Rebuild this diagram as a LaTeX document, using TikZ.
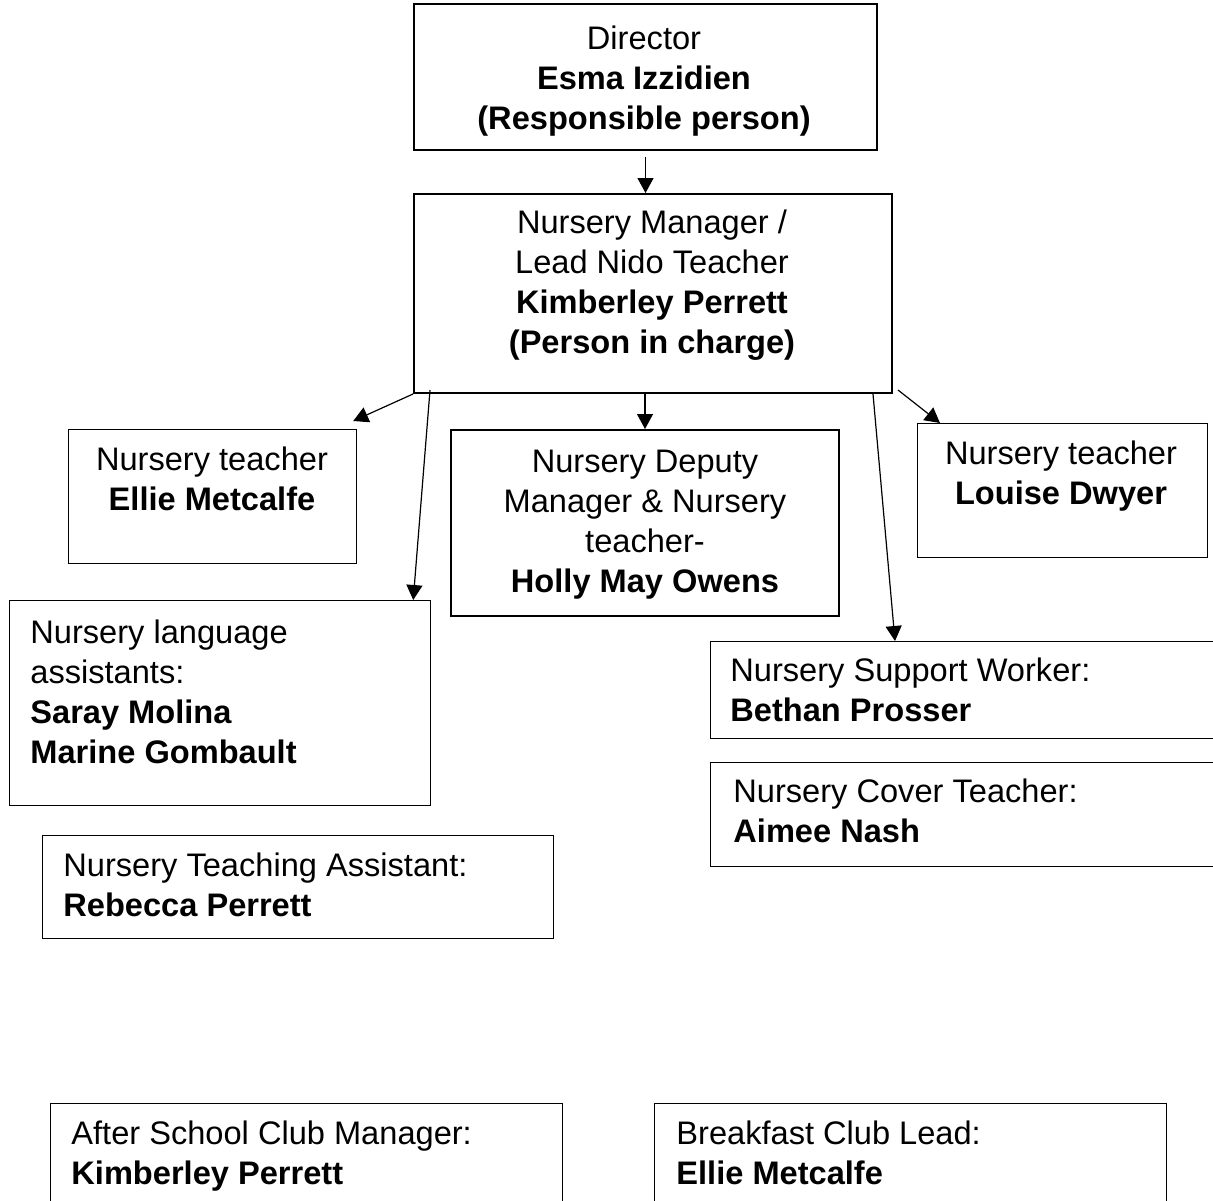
\documentclass[tikz,border=0pt]{standalone}
\usepackage{fontspec}
\setmainfont{Liberation Sans}
\usetikzlibrary{arrows.meta}
\newcommand{\chartfont}{\fontsize{16.3}{20}\selectfont}

\begin{document}
\begin{tikzpicture}[x=0.5pt, y=-0.5pt, font=\chartfont,
    box/.style={draw, rectangle, inner sep=0pt, anchor=north west, line width=0.6pt},
    bigbox/.style={box, line width=1pt},
    lbl/.style={inner sep=0pt, anchor=north, align=center},
    lbll/.style={inner sep=0pt, anchor=north west, align=left},
    arr/.style={line width=0.6pt, -{Triangle[length=7.5pt,width=8pt]}}]
    \clip (0,0) rectangle (1213,1200);

    % Top of the chart
    \node[bigbox, minimum width=231.5pt, minimum height=73pt] (dir) at (413,3) {};
    \node[bigbox, minimum width=239pt, minimum height=99.5pt] (mgr) at (413,193) {};
    \node[lbl] (dir-t) at (644,21) {\strut Director\\ \textbf{Esma Izzidien}\\ \textbf{(Responsible person)}};
    \node[lbl] (mgr-t) at (652,205) {\strut Nursery Manager /\\ Lead Nido Teacher\\ \textbf{Kimberley Perrett}\\ \textbf{(Person in charge)}};

    % Nursery team
    \node[box, minimum width=144pt, minimum height=67pt] (ellie) at (68,429) {};
    \node[bigbox, minimum width=194pt, minimum height=93pt] (dep) at (450,429) {};
    \node[box, minimum width=145pt, minimum height=67pt] (louise) at (917,423) {};
    \node[lbl] (ellie-t) at (212,442) {\strut Nursery teacher\\ \textbf{Ellie Metcalfe}};
    \node[lbl] (dep-t) at (645,444) {\strut Nursery Deputy\\ Manager \& Nursery\\ teacher-\\ \textbf{Holly May Owens}};
    \node[lbl] (louise-t) at (1061,436) {\strut Nursery teacher\\ \textbf{Louise Dwyer}};

    \node[box, minimum width=210.5pt, minimum height=102.5pt] (lang) at (9,600) {};
    \node[box, minimum width=260pt, minimum height=48.5pt] (supp) at (710,641) {};
    \node[box, minimum width=260pt, minimum height=52pt] (cover) at (710,762) {};
    \node[box, minimum width=255.5pt, minimum height=51.5pt] (tass) at (42,835) {};
    \node[lbll] (lang-t) at (30,615) {\strut Nursery language\\ assistants:\\ \textbf{Saray Molina}\\ \textbf{Marine Gombault}};
    \node[lbll] (supp-t) at (730,653) {\strut Nursery Support Worker:\\ \textbf{Bethan Prosser}};
    \node[lbll] (cover-t) at (733,774) {\strut Nursery Cover Teacher:\\ \textbf{Aimee Nash}};
    \node[lbll] (tass-t) at (63,848) {\strut Nursery Teaching Assistant:\\ \textbf{Rebecca Perrett}};

    % Clubs
    \node[box, minimum width=256pt, minimum height=60pt] (asc) at (50,1103) {};
    \node[box, minimum width=256pt, minimum height=60pt] (bfc) at (654,1103) {};
    \node[lbll] (asc-t) at (71,1116) {\strut After School Club Manager:\\ \textbf{Kimberley Perrett}};
    \node[lbll] (bfc-t) at (676,1116) {\strut Breakfast Club Lead:\\ \textbf{Ellie Metcalfe}};

    % Arrows
    \draw[arr] ([yshift=-3pt]dir.south) -- (dir.south |- mgr.north);
    \draw[arr] (mgr.south west) -- ([xshift=-2pt,yshift=4pt]ellie.north east);
    \draw[arr] (mgr.south -| dep.north) -- (dep.north);
    \draw[arr] ([xshift=8.5pt,yshift=2pt]mgr.south west) -- ([xshift=-9pt]lang.north east);
    \draw[arr] ([xshift=-10pt]mgr.south east) -- ([xshift=92.5pt]supp.north west);
    \draw[arr] ([xshift=2.5pt,yshift=2pt]mgr.south east) -- ([xshift=11.5pt]louise.north west);
\end{tikzpicture}
\end{document}
